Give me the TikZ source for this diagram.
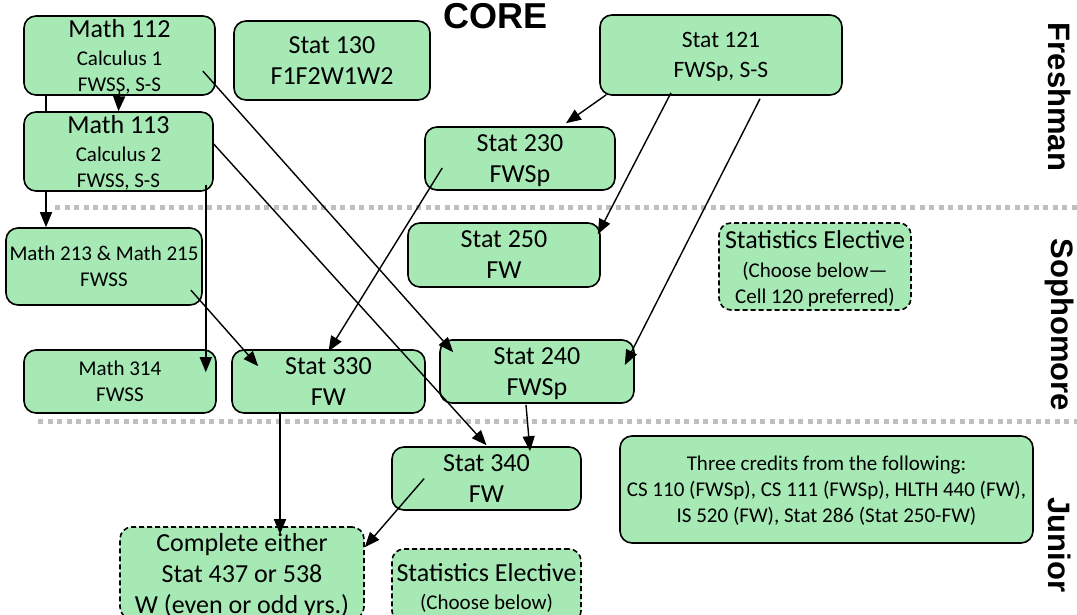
\documentclass[tikz,border=0pt]{standalone}
\usepackage{fontspec}
\setmainfont{Carlito}
\newfontfamily\labelfont{Liberation Sans}
\usetikzlibrary{arrows.meta}
\definecolor{boxgreen}{RGB}{166,233,181}
\definecolor{dotgray}{RGB}{191,191,191}
\newcommand\crsbig{\fontsize{26}{31}\selectfont}
\newcommand\crsmid{\fontsize{23.5}{30}\selectfont}
\newcommand\crssmall{\fontsize{21}{26}\selectfont}

\begin{document}
\begin{tikzpicture}[x=1pt, y=-1pt, course/.style={draw, rounded corners=12pt, fill=boxgreen, line width=1.6pt, inner sep=0pt, align=center, font=\crssmall, text depth=-6pt}, elective/.style={course, dash pattern=on 5pt off 3pt}, year/.style={font=\labelfont\bfseries\fontsize{31}{31}\selectfont, rotate=-90}, n/.style={-{Triangle[length=15pt, width=12pt]}, line width=1.4pt}, sep/.style={dotgray, line width=5pt, dash pattern=on 5pt off 4.5pt}]
        \useasboundingbox (0,0) rectangle (1077,614);
        % year separators
        \draw[sep] (55,207) -- (1077,207);
        \draw[sep] (38,421) -- (1077,421);
        % labels
        \node[font=\labelfont\bfseries\fontsize{36}{36}\selectfont] (core) at (496,16) {CORE};
        \node[year] (fresh) at (1060,97) {Freshman};
        \node[year] (soph) at (1060,325) {Sophomore};
        \node[year] (jun) at (1060,545) {Junior};
        % nodes
        \node[course, minimum width=191pt, minimum height=79pt] (m112) at (119.5,55.5) {{\crsbig Math 112}\\[2pt]Calculus 1\\FWSS, S-S};
        \node[course, minimum width=196pt, minimum height=77pt] (m213) at (104,266.5) {Math 213 \& Math 215\\FWSS};
        \draw[n] ([xshift=-73.5pt, yshift=2pt]m112.south) -- ([xshift=-58pt]m213.north);
        \node[course, minimum width=189pt, minimum height=79pt] (m113) at (118.5,151.5) {{\crsbig Math 113}\\[2pt]Calculus 2\\FWSS, S-S};
        \node[course, font=\crsbig, minimum width=196pt, minimum height=79pt] (s130) at (332,60.5) {Stat 130\\F1F2W1W2};
        \node[course, font=\crsmid, minimum width=242pt, minimum height=80pt] (s121) at (721,55) {Stat 121\\FWSp, S-S};
        \node[course, font=\crsbig, minimum width=190pt, minimum height=63pt] (s230) at (520,158.5) {Stat 230\\FWSp};
        \node[course, font=\crsbig, minimum width=192pt, minimum height=64pt] (s250) at (504,255) {Stat 250\\FW};
        \node[elective, minimum width=192pt, minimum height=87pt] (elec1) at (815,266.5) {{\crsbig Statistics Elective}\\[3pt](Choose below—\\Cell 120 preferred)};
        \node[course, minimum width=192pt, minimum height=63pt] (m314) at (120,381.5) {Math 314\\FWSS};
        \node[course, font=\crsbig, minimum width=193pt, minimum height=63pt] (s330) at (328.5,381.5) {Stat 330\\FW};
        \node[course, font=\crsbig, minimum width=194pt, minimum height=63pt] (s240) at (537,371.5) {Stat 240\\FWSp};
        \node[course, font=\crsbig, minimum width=189pt, minimum height=63pt] (s340) at (486.5,478.5) {Stat 340\\FW};
        \node[course, minimum width=413pt, minimum height=107pt] (three) at (826.5,489.5) {Three credits from the following:\\CS 110 (FWSp), CS 111 (FWSp), HLTH 440 (FW),\\IS 520 (FW), Stat 286 (Stat 250-FW)};
        \node[elective, font=\crsbig, minimum width=244pt, minimum height=92pt] (compl) at (242,573) {Complete either\\Stat 437 or 538\\W (even or odd yrs.)};
        \node[elective, minimum width=189pt, minimum height=74pt] (elec2) at (486.5,586) {{\crsbig Statistics Elective}\\[2pt](Choose below)};
        % edges
        \draw[n] ([yshift=6pt]m112.south) -- (m113.north);
        \draw[n] ([xshift=-13pt, yshift=-15.5pt]m112.east) -- ([xshift=14pt, yshift=-13pt]s240.north west);
        \draw[n] ([xshift=-8pt, yshift=7pt]m113.south east) -- ([xshift=-11pt, yshift=-23pt]m314.north east);
        \draw[n] ([xshift=-1pt, yshift=8.5pt]m113.east) -- ([yshift=1pt]s340.north);
        \draw[n] ([xshift=-12pt, yshift=-23.5pt]m213.east) -- ([xshift=27pt, yshift=-17pt]s330.north west);
        \draw[n] ([xshift=18pt, yshift=-9.5pt]s230.west) -- ([yshift=-2pt]s330.north);
        \draw[n] ([xshift=7pt, yshift=1pt]s121.south west) -- ([xshift=46pt, yshift=3pt]s230.north);
        \draw[n] ([xshift=-50pt, yshift=3pt]s121.south) -- ([xshift=-3pt, yshift=-12pt]s250.north east);
        \draw[n] ([xshift=39pt, yshift=-3pt]s121.south) -- ([xshift=-10pt, yshift=6.5pt]s240.east);
        \draw[n] ([xshift=-11pt, yshift=-1pt]s240.south) -- ([xshift=43.5pt, yshift=-5pt]s340.north);
        \draw[n] ([xshift=-48.5pt, yshift=1pt]s330.south) -- ([xshift=38pt, yshift=-8pt]compl.north);
        \draw[n] ([xshift=33pt]s340.west) -- ([yshift=-21pt]compl.north east);
    \end{tikzpicture}
\end{document}
